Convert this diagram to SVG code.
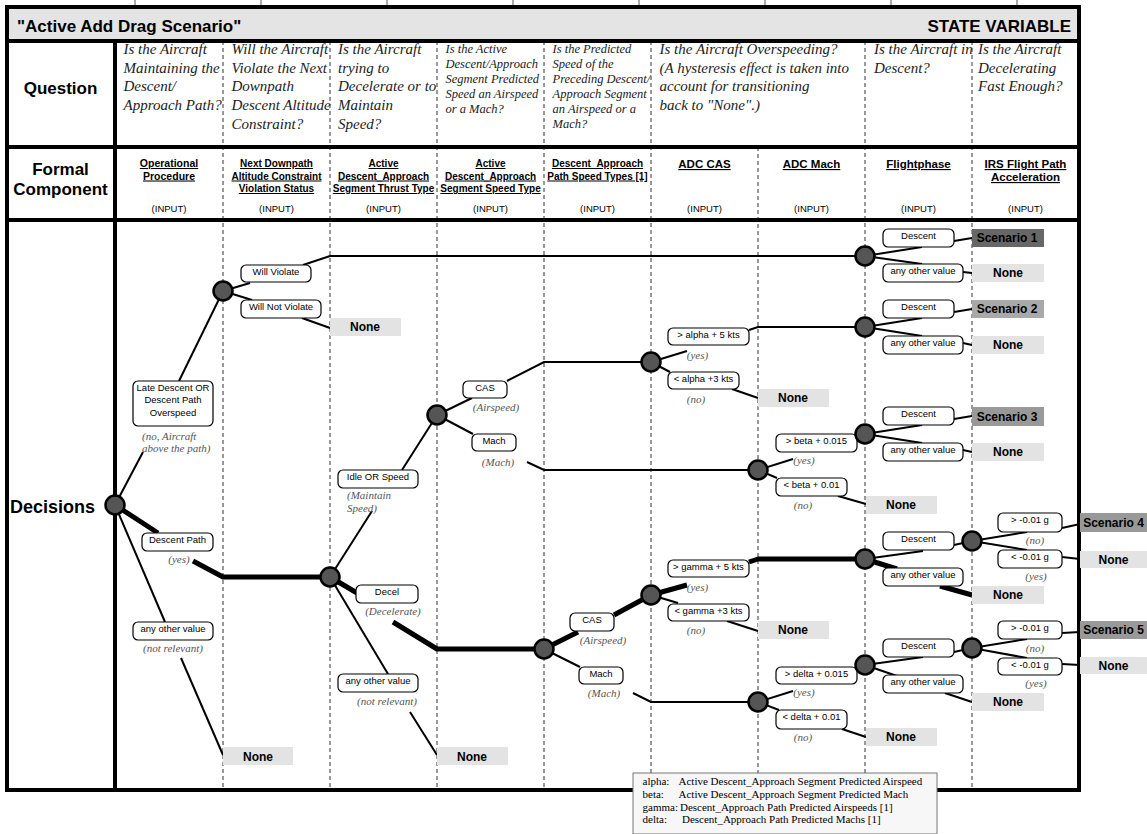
<svg xmlns="http://www.w3.org/2000/svg" width="1147" height="834" viewBox="0 0 1147 834">
<style>
.frame{fill:none;stroke:#000;stroke-width:4}
.hl{stroke:#000;stroke-width:4}
.dv{stroke:#333;stroke-width:1;stroke-dasharray:4 3}
.tk{stroke:#555;stroke-width:1}
.q{font-family:"Liberation Serif","Times New Roman",serif;font-style:italic;font-size:15px;fill:#222}
.qs{font-size:12.5px}
.hdr{font-family:"Liberation Sans",Arial,sans-serif;font-weight:bold;font-size:10px;text-decoration:underline;text-anchor:middle;fill:#000}
.hb{font-size:11.5px}
.inp{font-family:"Liberation Sans",Arial,sans-serif;font-size:9.5px;text-anchor:middle;fill:#000}
.lbl{font-family:"Liberation Sans",Arial,sans-serif;font-weight:bold;font-size:17px;fill:#000}
.box{fill:#fff;stroke:#000;stroke-width:1.2}
.bt{font-family:"Liberation Sans",Arial,sans-serif;font-size:9.5px;text-anchor:middle;fill:#000}
.it{font-family:"Liberation Serif","Times New Roman",serif;font-style:italic;font-size:11px;fill:#555;text-anchor:middle}
.none{fill:#e3e3e3}
.ot{font-family:"Liberation Sans",Arial,sans-serif;font-weight:bold;font-size:12px;text-anchor:middle;fill:#000}
.node{fill:#555;stroke:#000;stroke-width:2.5}
.c{stroke:#000;stroke-width:2;fill:none}
.ct{stroke:#000;stroke-width:5;fill:none;stroke-linejoin:round}
.lg{font-family:"Liberation Serif","Times New Roman",serif;font-size:11px;fill:#000}
</style>

<g id="frame">
<line class="tk" x1="135" y1="0" x2="135" y2="6"/>
<line class="tk" x1="261" y1="0" x2="261" y2="6"/>
<line class="tk" x1="387" y1="0" x2="387" y2="6"/>
<line class="tk" x1="513" y1="0" x2="513" y2="6"/>
<line class="tk" x1="639" y1="0" x2="639" y2="6"/>
<line class="tk" x1="765" y1="0" x2="765" y2="6"/>
<line class="tk" x1="891" y1="0" x2="891" y2="6"/>
<line class="tk" x1="1017" y1="0" x2="1017" y2="6"/>
<rect x="7" y="7" width="1072" height="34" fill="#e4e4e4"/>
<line class="dv" x1="223" y1="41" x2="223" y2="790"/>
<line class="dv" x1="330" y1="41" x2="330" y2="790"/>
<line class="dv" x1="437" y1="41" x2="437" y2="790"/>
<line class="dv" x1="544" y1="41" x2="544" y2="790"/>
<line class="dv" x1="651" y1="41" x2="651" y2="790"/>
<line class="dv" x1="758" y1="147" x2="758" y2="790"/>
<line class="dv" x1="865" y1="41" x2="865" y2="790"/>
<line class="dv" x1="972" y1="41" x2="972" y2="790"/>
<rect class="frame" x="7" y="7" width="1072" height="783"/>
<line class="hl" x1="7" y1="41" x2="1079" y2="41"/>
<line class="hl" x1="7" y1="147" x2="1079" y2="147"/>
<line class="hl" x1="7" y1="220" x2="1079" y2="220"/>
<line class="hl" x1="115" y1="41" x2="115" y2="790"/>
<text class="lbl" x="17" y="32">"Active Add Drag Scenario"</text>
<text class="lbl" x="1071" y="32" text-anchor="end">STATE VARIABLE</text>
<text class="lbl" x="60.5" y="94" text-anchor="middle">Question</text>
<text class="lbl" x="60.5" y="175" text-anchor="middle">Formal</text>
<text class="lbl" x="60.5" y="195" text-anchor="middle">Component</text>
<text class="lbl" x="10" y="513" style="font-size:18px">Decisions</text>
</g>

<g id="questions">
<text class="q" x="123.5" y="54"><tspan x="123.5">Is the Aircraft</tspan><tspan x="123.5" dy="18.7">Maintaining the</tspan><tspan x="123.5" dy="18.7">Descent/</tspan><tspan x="123.5" dy="18.7">Approach Path?</tspan></text>
<text class="q" x="231.5" y="54"><tspan x="231.5">Will the Aircraft</tspan><tspan x="231.5" dy="18.7">Violate the Next</tspan><tspan x="231.5" dy="18.7">Downpath</tspan><tspan x="231.5" dy="18.7">Descent Altitude</tspan><tspan x="231.5" dy="18.7">Constraint?</tspan></text>
<text class="q" x="338" y="54"><tspan x="338">Is the Aircraft</tspan><tspan x="338" dy="18.7">trying to</tspan><tspan x="338" dy="18.7">Decelerate or to</tspan><tspan x="338" dy="18.7">Maintain</tspan><tspan x="338" dy="18.7">Speed?</tspan></text>
<text class="q qs" x="445.5" y="53"><tspan x="445.5">Is the Active</tspan><tspan x="445.5" dy="15">Descent/Approach</tspan><tspan x="445.5" dy="15">Segment Predicted</tspan><tspan x="445.5" dy="15">Speed an Airspeed</tspan><tspan x="445.5" dy="15">or a Mach?</tspan></text>
<text class="q qs" x="552.5" y="53"><tspan x="552.5">Is the Predicted</tspan><tspan x="552.5" dy="15">Speed of the</tspan><tspan x="552.5" dy="15">Preceding Descent/</tspan><tspan x="552.5" dy="15">Approach Segment</tspan><tspan x="552.5" dy="15">an Airspeed or a</tspan><tspan x="552.5" dy="15">Mach?</tspan></text>
<text class="q" x="659.5" y="54"><tspan x="659.5">Is the Aircraft Overspeeding?</tspan><tspan x="659.5" dy="18.7">(A hysteresis effect is taken into</tspan><tspan x="659.5" dy="18.7">account for transitioning</tspan><tspan x="659.5" dy="18.7">back to "None".)</tspan></text>
<text class="q" x="874" y="54"><tspan x="874">Is the Aircraft in</tspan><tspan x="874" dy="18.7">Descent?</tspan></text>
<text class="q" x="978" y="54"><tspan x="978">Is the Aircraft</tspan><tspan x="978" dy="18.7">Decelerating</tspan><tspan x="978" dy="18.7">Fast Enough?</tspan></text>
</g>

<g id="formal">
<text class="hdr" style="font-size:10.5px" x="169" y="167"><tspan x="169">Operational</tspan><tspan x="169" dy="12.5">Procedure</tspan></text>
<text class="hdr" x="276.5" y="167"><tspan x="276.5">Next Downpath</tspan><tspan x="276.5" dy="12.5">Altitude Constraint</tspan><tspan x="276.5" dy="12.5">Violation Status</tspan></text>
<text class="hdr" x="383.5" y="167"><tspan x="383.5">Active</tspan><tspan x="383.5" dy="12.5">Descent_Approach</tspan><tspan x="383.5" dy="12.5">Segment Thrust Type</tspan></text>
<text class="hdr" x="490.5" y="167"><tspan x="490.5">Active</tspan><tspan x="490.5" dy="12.5">Descent_Approach</tspan><tspan x="490.5" dy="12.5">Segment Speed Type</tspan></text>
<text class="hdr" x="597.5" y="167"><tspan x="597.5">Descent_Approach</tspan><tspan x="597.5" dy="12.5">Path Speed Types [1]</tspan></text>
<text class="hdr hb" x="704.5" y="168">ADC CAS</text>
<text class="hdr hb" x="811.5" y="168">ADC Mach</text>
<text class="hdr hb" x="918.5" y="168">Flightphase</text>
<text class="hdr hb" x="1025.5" y="168"><tspan x="1025.5">IRS Flight Path</tspan><tspan x="1025.5" dy="13">Acceleration</tspan></text>
<text class="inp" x="169" y="211.5">(INPUT)</text>
<text class="inp" x="276.5" y="211.5">(INPUT)</text>
<text class="inp" x="383.5" y="211.5">(INPUT)</text>
<text class="inp" x="490.5" y="211.5">(INPUT)</text>
<text class="inp" x="597.5" y="211.5">(INPUT)</text>
<text class="inp" x="704.5" y="211.5">(INPUT)</text>
<text class="inp" x="811.5" y="211.5">(INPUT)</text>
<text class="inp" x="918.5" y="211.5">(INPUT)</text>
<text class="inp" x="1025.5" y="211.5">(INPUT)</text>
</g>

<g id="connectors">
<polyline class="c" points="115,505 143,452"/>
<polyline class="c" points="179,381 223,291"/>
<polyline class="c" points="223,291 250,283"/>
<polyline class="c" points="303,265 330,256 865,256"/>
<polyline class="c" points="223,291 252,300"/>
<polyline class="c" points="302,318 330,328"/>
<polyline class="c" points="115,505 165,622"/>
<polyline class="c" points="181,658 223,755"/>
<polyline class="c" points="330,577 372,511"/>
<polyline class="c" points="402,470 437,415"/>
<polyline class="c" points="330,577 388,674"/>
<polyline class="c" points="410,712 437,755"/>
<polyline class="c" points="437,415 472,398"/>
<polyline class="c" points="507,381 544,362 651,362"/>
<polyline class="c" points="437,415 473,434"/>
<polyline class="c" points="527,462 544,470 758,470"/>
<polyline class="c" points="651,362 687,351"/>
<polyline class="c" points="749,330 758,327 865,327"/>
<polyline class="c" points="651,362 670,372"/>
<polyline class="c" points="732,389 758,398"/>
<polyline class="c" points="544,649 580,667"/>
<polyline class="c" points="633,693 651,702 758,702"/>
<polyline class="c" points="651,595 678,603"/>
<polyline class="c" points="727,621 758,631"/>
<polyline class="c" points="758,470 793,459"/>
<polyline class="c" points="856,442 865,434"/>
<polyline class="c" points="758,470 777,478"/>
<polyline class="c" points="838,496 866,504"/>
<polyline class="c" points="758,702 793,691"/>
<polyline class="c" points="856,672 865,665"/>
<polyline class="c" points="758,702 779,710"/>
<polyline class="c" points="842,729 866,737"/>
<polyline class="c" points="865,256 922,247"/>
<polyline class="c" points="954,241 972,238"/>
<polyline class="c" points="865,256 922,264"/>
<polyline class="c" points="963,272 972,273"/>
<polyline class="c" points="865,327 922,318"/>
<polyline class="c" points="954,312 972,309"/>
<polyline class="c" points="865,327 922,336"/>
<polyline class="c" points="963,343 972,345"/>
<polyline class="c" points="865,434 922,425"/>
<polyline class="c" points="954,419 972,416"/>
<polyline class="c" points="865,434 922,443"/>
<polyline class="c" points="963,450 972,452"/>
<polyline class="c" points="865,559 923,551"/>
<polyline class="c" points="954,545 972,541"/>
<polyline class="c" points="972,541 1027,532"/>
<polyline class="c" points="1062,528 1080,524"/>
<polyline class="c" points="972,541 1027,550"/>
<polyline class="c" points="1062,557 1080,559"/>
<polyline class="c" points="865,665 923,657"/>
<polyline class="c" points="954,652 972,648"/>
<polyline class="c" points="972,648 1027,639"/>
<polyline class="c" points="1062,633 1080,632"/>
<polyline class="c" points="972,648 1027,658"/>
<polyline class="c" points="1062,664 1080,665"/>
<polyline class="c" points="865,665 897,676"/>
<polyline class="c" points="945,693 972,702"/>
<polyline class="ct" points="115,505 158,533"/>
<polyline class="ct" points="193,561 223,577 330,577"/>
<polyline class="ct" points="330,577 357,593"/>
<polyline class="ct" points="393,622 437,649 544,649"/>
<polyline class="ct" points="544,649 578,632"/>
<polyline class="ct" points="614,615 651,595"/>
<polyline class="ct" points="651,595 687,585"/>
<polyline class="ct" points="749,562 758,559 865,559"/>
<polyline class="ct" points="865,559 897,569"/>
<polyline class="ct" points="940,586 972,595"/>
</g>

<g id="opt-late-descent"><rect class="box" x="133" y="381" width="80" height="45" rx="5"/><text class="bt" x="173" y="390.5">Late Descent OR</text><text class="bt" x="173" y="403">Descent Path</text><text class="bt" x="173" y="415.5">Overspeed</text><text class="it" x="142" y="440" style="text-anchor:start">(no, Aircraft</text><text class="it" x="142" y="451.5" style="text-anchor:start">above the path)</text></g>
<g id="opt-descent-path"><rect class="box" x="142" y="533" width="71" height="18" rx="5"/><text class="bt" x="177.5" y="543">Descent Path</text><text class="it" x="179" y="563">(yes)</text></g>
<g id="opt-any-1"><rect class="box" x="133" y="622" width="80" height="18" rx="5"/><text class="bt" x="173" y="632">any other value</text><text class="it" x="173" y="652">(not relevant)</text></g>
<g id="opt-will-violate"><rect class="box" x="241" y="265" width="70" height="17" rx="5"/><text class="bt" x="276" y="274.5">Will Violate</text></g>
<g id="opt-will-not-violate"><rect class="box" x="241" y="300" width="80" height="18" rx="5"/><text class="bt" x="281" y="309.5">Will Not Violate</text></g>
<g id="opt-idle"><rect class="box" x="338" y="470" width="80" height="18" rx="5"/><text class="bt" x="378" y="480">Idle OR Speed</text><text class="it" x="347" y="499" style="text-anchor:start">(Maintain</text><text class="it" x="347" y="512" style="text-anchor:start">Speed)</text></g>
<g id="opt-decel"><rect class="box" x="356" y="585" width="62" height="18" rx="5"/><text class="bt" x="387" y="595">Decel</text><text class="it" x="393" y="615">(Decelerate)</text></g>
<g id="opt-any-2"><rect class="box" x="338" y="674" width="80" height="18" rx="5"/><text class="bt" x="378" y="684">any other value</text><text class="it" x="387" y="705">(not relevant)</text></g>
<g id="opt-cas-1"><rect class="box" x="463" y="381" width="44" height="17" rx="5"/><text class="bt" x="485" y="390.5">CAS</text><text class="it" x="496" y="411">(Airspeed)</text></g>
<g id="opt-mach-1"><rect class="box" x="472" y="434" width="44" height="17" rx="5"/><text class="bt" x="494" y="443.5">Mach</text><text class="it" x="498" y="466">(Mach)</text></g>
<g id="opt-cas-2"><rect class="box" x="570" y="613" width="44" height="18" rx="5"/><text class="bt" x="592" y="622.5">CAS</text><text class="it" x="603" y="644">(Airspeed)</text></g>
<g id="opt-mach-2"><rect class="box" x="579" y="667" width="44" height="17" rx="5"/><text class="bt" x="601" y="676.5">Mach</text><text class="it" x="604" y="697">(Mach)</text></g>
<g id="opt-alpha-hi"><rect class="box" x="668" y="328" width="81" height="17" rx="5"/><text class="bt" x="708.5" y="337.5">&gt; alpha + 5 kts</text><text class="it" x="697.5" y="359">(yes)</text></g>
<g id="opt-alpha-lo"><rect class="box" x="668" y="372" width="71" height="17" rx="5"/><text class="bt" x="703.5" y="381.5">&lt; alpha +3 kts</text><text class="it" x="696" y="403">(no)</text></g>
<g id="opt-gamma-hi"><rect class="box" x="668" y="560" width="81" height="17" rx="5"/><text class="bt" x="708.5" y="569.5">&gt; gamma + 5 kts</text><text class="it" x="697.5" y="591">(yes)</text></g>
<g id="opt-gamma-lo"><rect class="box" x="668" y="604" width="81" height="17" rx="5"/><text class="bt" x="708.5" y="613.5">&lt; gamma +3 kts</text><text class="it" x="696" y="634">(no)</text></g>
<g id="opt-beta-hi"><rect class="box" x="776" y="434" width="81" height="18" rx="5"/><text class="bt" x="816.5" y="444">&gt; beta + 0.015</text><text class="it" x="804" y="464">(yes)</text></g>
<g id="opt-beta-lo"><rect class="box" x="776" y="478" width="71" height="18" rx="5"/><text class="bt" x="811.5" y="488">&lt; beta + 0.01</text><text class="it" x="803" y="509">(no)</text></g>
<g id="opt-delta-hi"><rect class="box" x="776" y="667" width="81" height="17" rx="5"/><text class="bt" x="816.5" y="676.5">&gt; delta + 0.015</text><text class="it" x="804" y="696">(yes)</text></g>
<g id="opt-delta-lo"><rect class="box" x="776" y="710" width="71" height="19" rx="5"/><text class="bt" x="811.5" y="720">&lt; delta + 0.01</text><text class="it" x="803" y="741">(no)</text></g>
<g id="opt-fp-1"><rect class="box" x="883" y="229" width="71" height="18" rx="5"/><text class="bt" x="918.5" y="239">Descent</text><rect class="box" x="883" y="264" width="80" height="18" rx="5"/><text class="bt" x="923" y="274">any other value</text></g>
<g id="opt-fp-2"><rect class="box" x="883" y="300" width="71" height="18" rx="5"/><text class="bt" x="918.5" y="310">Descent</text><rect class="box" x="883" y="336" width="80" height="18" rx="5"/><text class="bt" x="923" y="346">any other value</text></g>
<g id="opt-fp-3"><rect class="box" x="883" y="407" width="71" height="18" rx="5"/><text class="bt" x="918.5" y="417">Descent</text><rect class="box" x="883" y="443" width="80" height="18" rx="5"/><text class="bt" x="923" y="453">any other value</text></g>
<g id="opt-fp-4"><rect class="box" x="883" y="532" width="71" height="18" rx="5"/><text class="bt" x="918.5" y="542">Descent</text><rect class="box" x="883" y="568" width="80" height="18" rx="5"/><text class="bt" x="923" y="578">any other value</text></g>
<g id="opt-fp-5"><rect class="box" x="883" y="639" width="71" height="18" rx="5"/><text class="bt" x="918.5" y="649">Descent</text><rect class="box" x="883" y="675" width="80" height="18" rx="5"/><text class="bt" x="923" y="685">any other value</text></g>
<g id="opt-irs-1"><rect class="box" x="998" y="513" width="64" height="19" rx="5"/><text class="bt" x="1030" y="523">&gt; -0.01 g</text><text class="it" x="1035" y="544">(no)</text><rect class="box" x="998" y="550" width="64" height="18" rx="5"/><text class="bt" x="1030" y="560">&lt; -0.01 g</text><text class="it" x="1036" y="580">(yes)</text></g>
<g id="opt-irs-2"><rect class="box" x="998" y="621" width="64" height="18" rx="5"/><text class="bt" x="1030" y="631">&gt; -0.01 g</text><text class="it" x="1035" y="652">(no)</text><rect class="box" x="998" y="658" width="64" height="17" rx="5"/><text class="bt" x="1030" y="667.5">&lt; -0.01 g</text><text class="it" x="1036" y="687">(yes)</text></g>

<g id="outcomes">
<g id="none-1"><rect class="none" x="330" y="318" width="71" height="18"/><text class="ot" x="365" y="331">None</text></g>
<g id="none-2"><rect class="none" x="223" y="747" width="70" height="18"/><text class="ot" x="258" y="760.5">None</text></g>
<g id="none-3"><rect class="none" x="437" y="747" width="71" height="18"/><text class="ot" x="472" y="760.5">None</text></g>
<g id="none-4"><rect class="none" x="758" y="389" width="71" height="18"/><text class="ot" x="793" y="402">None</text></g>
<g id="none-5"><rect class="none" x="758" y="621" width="71" height="18"/><text class="ot" x="793" y="634">None</text></g>
<g id="none-6"><rect class="none" x="866" y="496" width="71" height="18"/><text class="ot" x="901" y="509">None</text></g>
<g id="none-7"><rect class="none" x="866" y="728" width="71" height="18"/><text class="ot" x="901" y="741">None</text></g>
<g id="none-8"><rect class="none" x="972" y="264" width="72" height="18"/><text class="ot" x="1008" y="277">None</text></g>
<g id="none-9"><rect class="none" x="972" y="336" width="72" height="18"/><text class="ot" x="1008" y="349">None</text></g>
<g id="none-10"><rect class="none" x="972" y="443" width="72" height="18"/><text class="ot" x="1008" y="456">None</text></g>
<g id="none-11"><rect class="none" x="972" y="586" width="72" height="18"/><text class="ot" x="1008" y="599">None</text></g>
<g id="none-12"><rect class="none" x="972" y="693" width="72" height="18"/><text class="ot" x="1008" y="706">None</text></g>
<g id="none-13"><rect class="none" x="1080" y="551" width="67" height="17"/><text class="ot" x="1113.5" y="563.5">None</text></g>
<g id="none-14"><rect class="none" x="1080" y="657" width="67" height="17"/><text class="ot" x="1113.5" y="669.5">None</text></g>
<g id="scenario-1"><rect x="972" y="229" width="72" height="18" fill="#676767"/><text class="ot" x="1007" y="242">Scenario 1</text></g>
<g id="scenario-2"><rect x="972" y="300" width="72" height="18" fill="#a9a9a9"/><text class="ot" x="1007" y="313">Scenario 2</text></g>
<g id="scenario-3"><rect x="972" y="407" width="72" height="19" fill="#999"/><text class="ot" x="1007" y="420.5">Scenario 3</text></g>
<g id="scenario-4"><rect x="1080" y="513" width="67" height="19" fill="#999"/><text class="ot" x="1113.5" y="526.5">Scenario 4</text></g>
<g id="scenario-5"><rect x="1080" y="621" width="67" height="18" fill="#999"/><text class="ot" x="1113.5" y="634">Scenario 5</text></g>
</g>

<g id="decision-points">
<circle id="n-root" class="node" cx="115" cy="505" r="9.5"/>
<circle id="n-violation" class="node" cx="223" cy="291" r="9.5"/>
<circle id="n-thrust" class="node" cx="330" cy="577" r="9.5"/>
<circle id="n-segspeed" class="node" cx="437" cy="415" r="9.5"/>
<circle id="n-pathspeed" class="node" cx="544" cy="649" r="9.5"/>
<circle id="n-cas-alpha" class="node" cx="651" cy="362" r="9.5"/>
<circle id="n-cas-gamma" class="node" cx="651" cy="595" r="9.5"/>
<circle id="n-mach-beta" class="node" cx="758" cy="470" r="9.5"/>
<circle id="n-mach-delta" class="node" cx="758" cy="702" r="9.5"/>
<circle id="n-fp-1" class="node" cx="865" cy="256" r="9.5"/>
<circle id="n-fp-2" class="node" cx="865" cy="327" r="9.5"/>
<circle id="n-fp-3" class="node" cx="865" cy="434" r="9.5"/>
<circle id="n-fp-4" class="node" cx="865" cy="559" r="9.5"/>
<circle id="n-fp-5" class="node" cx="865" cy="665" r="9.5"/>
<circle id="n-irs-1" class="node" cx="972" cy="541" r="9.5"/>
<circle id="n-irs-2" class="node" cx="972" cy="648" r="9.5"/>
</g>

<g id="legend">
<rect x="633" y="773" width="304" height="61" fill="#f7f7f7" stroke="#777" stroke-width="1"/>
<text class="lg" x="642.5" y="784.5">alpha:</text><text class="lg" x="678.5" y="784.5">Active Descent_Approach Segment Predicted Airspeed</text>
<text class="lg" x="642.5" y="797.5">beta:</text><text class="lg" x="678.5" y="797.5">Active Descent_Approach Segment Predicted Mach</text>
<text class="lg" x="642.5" y="810.5">gamma:</text><text class="lg" x="680" y="810.5">Descent_Approach Path Predicted Airspeeds [1]</text>
<text class="lg" x="642.5" y="823">delta:</text><text class="lg" x="682" y="823">Descent_Approach Path Predicted Machs [1]</text>
</g>
</svg>
